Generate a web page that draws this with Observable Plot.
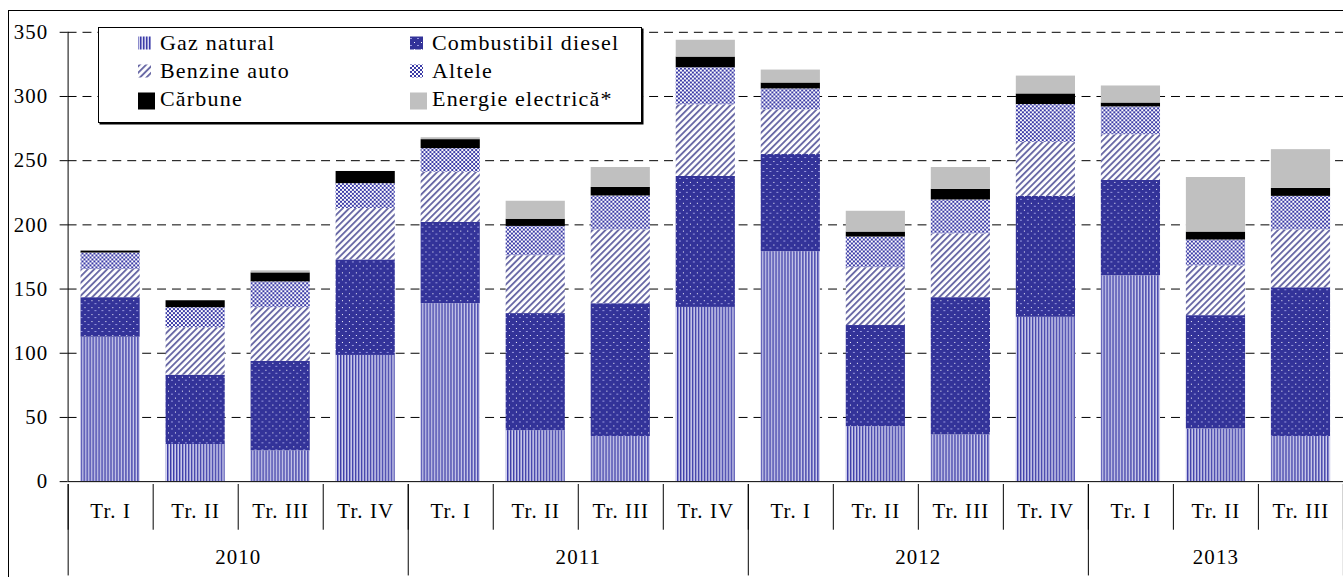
<!DOCTYPE html>
<html>
<head>
<meta charset="utf-8">
<script src="https://cdn.jsdelivr.net/npm/d3@7"></script>
<script src="https://cdn.jsdelivr.net/npm/@observablehq/plot@0.6"></script>
<style>
  html, body { margin: 0; padding: 0; background: #fff; overflow: hidden; }
  #wrap { position: relative; width: 1343px; height: 577px; overflow: hidden; background: #fff; }
  #frame { position: absolute; left: 8px; top: 10px; width: 2000px; height: 1000px;
           border-left: 1px solid #000; border-top: 1px solid #000; pointer-events: none; }
  text { font-family: "Liberation Serif", "Times New Roman", serif; }
</style>
</head>
<body>
<svg width="0" height="0" style="position:absolute">
  <defs>
    <pattern id="p-gaz" width="3" height="4" patternUnits="userSpaceOnUse">
      <rect width="3" height="4" fill="#d6d6f0"/>
      <rect x="0" width="1" height="4" fill="#3b3ba8"/>
      <rect x="1" width="1" height="4" fill="#8c8ccc"/>
    </pattern>
    <pattern id="p-diesel" width="7" height="7" patternUnits="userSpaceOnUse">
      <rect width="7" height="7" fill="#333399"/>
      <rect x="1" y="1" width="1" height="1" fill="#ffffff"/>
      <rect x="4" y="4" width="2" height="1" fill="#9a9ae0"/>
    </pattern>
    <pattern id="p-benz" width="4.6" height="4.6" patternUnits="userSpaceOnUse" patternTransform="rotate(45)">
      <rect width="4.6" height="4.6" fill="#ffffff"/>
      <rect width="1.9" height="4.6" fill="#6a6aa6"/>
    </pattern>
    <pattern id="p-alt" width="4" height="4" patternUnits="userSpaceOnUse">
      <rect width="4" height="4" fill="#ffffff"/>
      <rect width="2" height="2" fill="#3a3aa6"/>
      <rect x="2" y="2" width="2" height="2" fill="#3a3aa6"/>
    </pattern>
  </defs>
</svg>
<div id="wrap"><div id="frame"></div></div>
<script>
// ---------- DATA ----------
const quarters = ["Tr. I","Tr. II","Tr. III","Tr. IV","Tr. I","Tr. II","Tr. III","Tr. IV","Tr. I","Tr. II","Tr. III","Tr. IV","Tr. I","Tr. II","Tr. III"];
const years    = ["2010","2010","2010","2010","2011","2011","2011","2011","2012","2012","2012","2012","2013","2013","2013"];
const seriesNames = ["Gaz natural","Combustibil diesel","Benzine auto","Altele","Cărbune","Energie electrică*"];
const gazNatural   = [112.5, 28.9, 24.0, 98.3, 138.6, 39.7, 35.1, 135.7, 179.1, 42.8, 36.4, 128.0, 160.3, 41.0, 35.1];
const diesel       = [30.8, 54.0, 69.7, 74.4, 63.3, 91.2, 103.5, 102.0, 75.7, 78.8, 106.9, 94.2, 74.3, 88.3, 115.9];
const benzine      = [21.9, 36.9, 41.8, 40.0, 39.2, 45.1, 57.5, 55.8, 34.8, 45.1, 49.7, 42.1, 35.6, 38.7, 45.1];
const altele       = [12.9, 15.7, 20.1, 19.4, 18.3, 22.8, 26.4, 28.9, 16.3, 23.8, 26.4, 29.4, 21.7, 20.2, 26.1];
const carbune      = [1.5, 5.4, 7.0, 9.5, 7.0, 5.6, 6.7, 8.3, 4.6, 3.9, 8.3, 8.3, 3.0, 6.2, 6.2];
const energie      = [0, 0, 1.6, 0, 1.5, 14.0, 15.5, 13.1, 10.1, 16.2, 17.0, 13.9, 13.3, 42.5, 30.2];
const yTicks = [0, 50, 100, 150, 200, 250, 300, 350];

// ---------- STYLE ----------
const fills = ["url(#p-gaz)","url(#p-diesel)","url(#p-benz)","url(#p-alt)","#000000","#c0c0c0"];
const FONT = "Liberation Serif";
const FS = 21, LS = "1.1px";

const seriesValues = [gazNatural, diesel, benzine, altele, carbune, energie];
const rows = [];
quarters.forEach((q, i) => {
  seriesNames.forEach((s, k) => rows.push({i, quarter: q, year: years[i], series: s, value: seriesValues[k][i]}));
});
const n = quarters.length;
const W = 1351;

const main = Plot.plot({
  width: W, height: 485,
  marginLeft: 68, marginRight: 0, marginTop: 32, marginBottom: 1,
  style: {fontFamily: FONT, fontSize: FS + "px", letterSpacing: LS, color: "#000", background: "transparent", overflow: "visible"},
  x: {domain: [0, n], axis: null},
  y: {domain: [0, 350], axis: null},
  color: {type: "ordinal", domain: seriesNames, range: fills},
  marks: [
    Plot.ruleY(yTicks.filter(d => d > 0), {stroke: "#000", strokeWidth: 1, strokeDasharray: "9,6"}),
    Plot.rectY(rows, {x: "i", interval: 1, y: "value", fill: "series", z: "series", order: seriesNames, insetLeft: 13, insetRight: 13}),
    Plot.ruleX([0], {stroke: "#000"}),
    Plot.ruleY([0], {stroke: "#000"}),
    Plot.axisY({ticks: yTicks, label: null, tickSize: 8, tickPadding: 12, tickFormat: d => String(d), fill: "#000", stroke: "#000"})
  ]
});

const quarterEdges = d3.range(n + 1);
const yearNames = Array.from(new Set(years));
const yearSpans = yearNames.map(y => {
  const idx = years.map((v, i) => v === y ? i : -1).filter(i => i >= 0);
  return {year: y, start: idx[0], end: idx[idx.length - 1] + 1};
});
const yearEdges = yearSpans.map(d => d.start).concat([n]);

const bottom = Plot.plot({
  width: W, height: 93,
  marginLeft: 68, marginRight: 0, marginTop: 0, marginBottom: 0,
  style: {fontFamily: FONT, fontSize: FS + "px", letterSpacing: LS, color: "#000", background: "transparent", overflow: "visible"},
  x: {domain: [0, n], axis: null},
  y: {domain: [0, 2], range: [0, 92], axis: null},
  marks: [
    Plot.ruleX(quarterEdges, {x: d => d, y1: 0, y2: 1, stroke: "#000"}),
    Plot.ruleX(yearEdges, {x: d => d, y1: 0, y2: 2, stroke: "#000"}),
    Plot.text(quarters.map((q, i) => ({q, i})), {x: d => d.i + 0.5, y: 0.5, text: "q", dy: 4, fill: "#000", fontSize: FS}),
    Plot.text(yearSpans, {x: d => (d.start + d.end) / 2, y: 1.5, text: "year", dy: 4, fill: "#000", fontSize: FS})
  ]
});

const wrap = document.getElementById("wrap");
main.style.position = "absolute"; main.style.left = "0px"; main.style.top = "0px";
bottom.style.position = "absolute"; bottom.style.left = "0px"; bottom.style.top = "484px";
wrap.appendChild(main);
wrap.appendChild(bottom);

// ---------- LEGEND ----------
const ns = "http://www.w3.org/2000/svg";
const leg = document.createElementNS(ns, "svg");
leg.setAttribute("width", 548); leg.setAttribute("height", 100);
leg.style.position = "absolute"; leg.style.left = "98px"; leg.style.top = "27px";
function el(tag, attrs, parent) { const e = document.createElementNS(ns, tag); for (const k in attrs) e.setAttribute(k, attrs[k]); parent.appendChild(e); return e; }
el("rect", {x: 1.5, y: 1.5, width: 544, height: 96, fill: "#000"}, leg);
el("rect", {x: 0.5, y: 0.5, width: 543, height: 95, fill: "#fff", stroke: "#000", "stroke-width": 1}, leg);
seriesNames.forEach((s, k) => {
  const col = k % 2, row = Math.floor(k / 2);
  const base = 23 + 28 * row;
  const sx = col === 0 ? 40 : 312;
  const size = row === 2 ? 17 : 13;
  el("rect", {x: sx, y: base - 7 - size / 2 - (row === 2 ? -2 : 0), width: size, height: size, fill: fills[k]}, leg);
  const t = el("text", {x: col === 0 ? 62 : 334, y: base, fill: "#000", "font-size": FS + 1, "letter-spacing": "1.2px", "font-family": FONT}, leg);
  t.textContent = s;
});
wrap.appendChild(leg);
</script>
</body>
</html>
